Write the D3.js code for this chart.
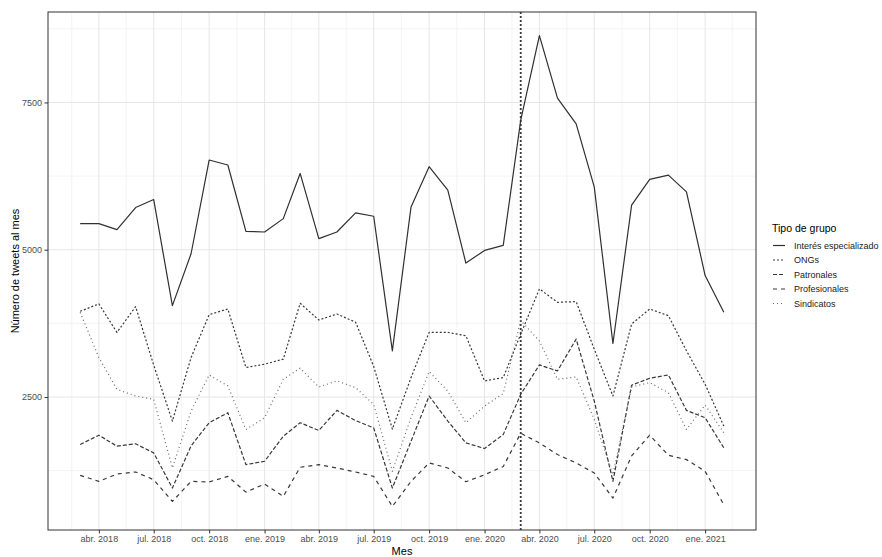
<!DOCTYPE html>
<html>
<head>
<meta charset="utf-8">
<script src="https://cdn.jsdelivr.net/npm/d3@7"></script>
<style>
  body { margin: 0; background: #fff; }
  svg { font-family: "Liberation Sans", Arial, sans-serif; }
</style>
</head>
<body>
<div id="chart"></div>
<script>
// Months: mar. 2018 .. feb. 2021
const firstMonth = "2018-03-01";
const lastMonth = "2021-02-01";
const monthAbbr = ["ene.", "feb.", "mar.", "abr.", "may.", "jun.", "jul.", "ago.", "sept.", "oct.", "nov.", "dic."];
const yTicks = [2500, 5000, 7500];
const eventDate = "2020-03-01";

const groups = ["Interés especializado", "ONGs", "Patronales", "Profesionales", "Sindicatos"];

const interes = [5443, 5443, 5341, 5716, 5852, 4051, 4932, 6523, 6438, 5313, 5301, 5528,
                 6295, 5188, 5301, 5625, 5568, 3284, 5727, 6409, 6011, 4773, 4989, 5074,
                 7200, 8636, 7574, 7136, 6068, 3409, 5756, 6193, 6267, 5983, 4562, 3937];
const ongs = [3955, 4080, 3597, 4034, 3040, 2091, 3170, 3898, 3994, 3000, 3057, 3142,
              4091, 3807, 3909, 3770, 3020, 1955, 2830, 3597, 3597, 3540, 2773, 2830,
              3568, 4335, 4108, 4119, 3312, 2517, 3739, 3994, 3881, 3284, 2716, 2006];
const patronales = [1693, 1852, 1665, 1705, 1551, 955, 1670, 2063, 2233, 1352, 1409, 1835,
                    2063, 1932, 2273, 2100, 1975, 955, 1750, 2517, 2091, 1722, 1625, 1863,
                    2545, 3045, 2943, 3483, 2432, 1068, 2700, 2818, 2875, 2273, 2148, 1636];
const profesionales = [1170, 1068, 1193, 1227, 1096, 727, 1068, 1057, 1153, 886, 1023, 812,
                       1307, 1352, 1295, 1227, 1153, 642, 1068, 1381, 1295, 1062, 1180, 1320,
                       1885, 1720, 1523, 1381, 1210, 784, 1500, 1852, 1511, 1437, 1239, 670];
const sindicatos = [3937, 3170, 2631, 2517, 2460, 1295, 2261, 2875, 2687, 1949, 2148, 2801,
                    2989, 2670, 2773, 2659, 2375, 1239, 2150, 2932, 2602, 2063, 2347, 2560,
                    3800, 3450, 2801, 2841, 2119, 1182, 2671, 2744, 2574, 1949, 2364, 1892];

const seriesValues = [interes, ongs, patronales, profesionales, sindicatos];

const parseDate = d3.timeParse("%Y-%m-%d");
const months = d3.timeMonth.range(parseDate(firstMonth), d3.timeMonth.offset(parseDate(lastMonth), 1));

const series = groups.map((g, i) => ({
    name: g,
    values: months.map((m, j) => ({ date: m, value: seriesValues[i][j] }))
}));

// ggplot-like linetypes
const lw = 1.2;
const dashes = ["none", [2, 2], [4, 2], [4, 4], [1, 3]];
const dashArray = k => dashes[k] === "none" ? null : dashes[k].join(",");
const lineColors = ["#303030", "#383838", "#383838", "#383838", "#6a6a6a"];

const W = 882, H = 557;
const margin = { top: 12, right: 126, bottom: 27, left: 48 },
      width = W - margin.left - margin.right,
      height = H - margin.top - margin.bottom;

const svg = d3.select("#chart").append("svg")
    .attr("width", W)
    .attr("height", H);

const g = svg.append("g")
    .attr("transform", "translate(" + margin.left + "," + margin.top + ")");

// Scales with 5% expansion like ggplot
const allVals = seriesValues.flat();
const yMin = d3.min(allVals), yMax = d3.max(allVals);
const yPad = (yMax - yMin) * 0.05;
const y = d3.scaleLinear().domain([yMin - yPad, yMax + yPad]).range([height, 0]);

const t0 = months[0].getTime(), t1 = months[months.length - 1].getTime();
const tPad = (t1 - t0) * 0.05;
const x = d3.scaleTime().domain([new Date(t0 - tPad), new Date(t1 + tPad)]).range([0, width]);

// Quarterly major breaks
const xMajor = d3.timeMonth.every(3).range(new Date(2017, 9, 1), new Date(2021, 7, 1))
    .filter(d => d.getMonth() % 3 === 0);
const xMinor = d3.pairs(xMajor).map(([a, b]) => new Date((a.getTime() + b.getTime()) / 2))
    .filter(d => d >= x.domain()[0] && d <= x.domain()[1]);
const xTicks = xMajor.filter(d => d >= x.domain()[0] && d <= x.domain()[1]);
const yMinor = [1250, 3750, 6250, 8750].filter(v => v >= y.domain()[0] && v <= y.domain()[1]);

// Grid
g.selectAll(".gminor-x").data(xMinor).enter().append("line")
    .attr("x1", d => x(d)).attr("x2", d => x(d))
    .attr("y1", 0).attr("y2", height)
    .style("stroke", "#ececec").style("stroke-width", 0.6);
g.selectAll(".gminor-y").data(yMinor).enter().append("line")
    .attr("x1", 0).attr("x2", width)
    .attr("y1", d => y(d)).attr("y2", d => y(d))
    .style("stroke", "#ececec").style("stroke-width", 0.6);
g.selectAll(".gmajor-x").data(xTicks).enter().append("line")
    .attr("x1", d => x(d)).attr("x2", d => x(d))
    .attr("y1", 0).attr("y2", height)
    .style("stroke", "#e6e6e6").style("stroke-width", 1);
g.selectAll(".gmajor-y").data(yTicks).enter().append("line")
    .attr("x1", 0).attr("x2", width)
    .attr("y1", d => y(d)).attr("y2", d => y(d))
    .style("stroke", "#e6e6e6").style("stroke-width", 1);

// Vertical event line
g.append("line")
    .attr("x1", x(parseDate(eventDate))).attr("x2", x(parseDate(eventDate)))
    .attr("y1", 0).attr("y2", height)
    .style("stroke", "#3a3a3a").style("stroke-width", 1.8)
    .style("stroke-dasharray", "2,2");

// Lines
const line = d3.line()
    .x(d => x(d.date))
    .y(d => y(d.value));

g.selectAll(".series").data(series).enter().append("path")
    .attr("d", d => line(d.values))
    .style("fill", "none")
    .style("stroke", (d, i) => lineColors[i])
    .style("stroke-width", lw)
    .style("stroke-linejoin", "round")
    .style("stroke-dasharray", (d, i) => dashArray(i));

// Panel border
g.append("rect")
    .attr("width", width).attr("height", height)
    .style("fill", "none").style("stroke", "#333").style("stroke-width", 1);

// Axes
const fmt = d => monthAbbr[d.getMonth()] + " " + d.getFullYear();
const xAxis = g.append("g")
    .attr("transform", "translate(0," + height + ")")
    .call(d3.axisBottom(x).tickValues(xTicks).tickFormat(fmt).tickSize(3.5).tickPadding(2));
const yAxis = g.append("g")
    .call(d3.axisLeft(y).tickValues(yTicks).tickFormat(d3.format("d")).tickSize(3.5).tickPadding(2.5));

[xAxis, yAxis].forEach(a => {
    a.select(".domain").remove();
    a.selectAll(".tick line").style("stroke", "#333");
    a.selectAll(".tick text").style("fill", "#4d4d4d").style("font-size", "9px")
        .style("font-family", "'Liberation Sans', Arial, sans-serif");
});

// Axis titles
svg.append("text")
    .attr("x", margin.left + width / 2)
    .attr("y", 555)
    .attr("text-anchor", "middle")
    .style("font-size", "11px")
    .text("Mes");

svg.append("text")
    .attr("transform", "translate(19," + (margin.top + height / 2) + ") rotate(-90)")
    .attr("text-anchor", "middle")
    .style("font-size", "11px")
    .text("Número de tweets al mes");

// Legend
const legend = svg.append("g").attr("transform", "translate(772,0)");
legend.append("text")
    .attr("x", 0).attr("y", 232)
    .style("font-size", "10.5px")
    .text("Tipo de grupo");

const rows = legend.selectAll(".lrow").data(groups).enter().append("g")
    .attr("transform", (d, i) => "translate(0," + (245.5 + i * 14.5) + ")");
rows.append("line")
    .attr("x1", 1).attr("x2", 13)
    .style("stroke", (d, i) => lineColors[i])
    .style("stroke-width", lw)
    .style("stroke-dasharray", (d, i) => dashArray(i));
rows.append("text")
    .attr("x", 22).attr("y", 3.2)
    .style("font-size", "9px")
    .style("fill", "#1a1a1a")
    .text(d => d);
</script>
</body>
</html>
